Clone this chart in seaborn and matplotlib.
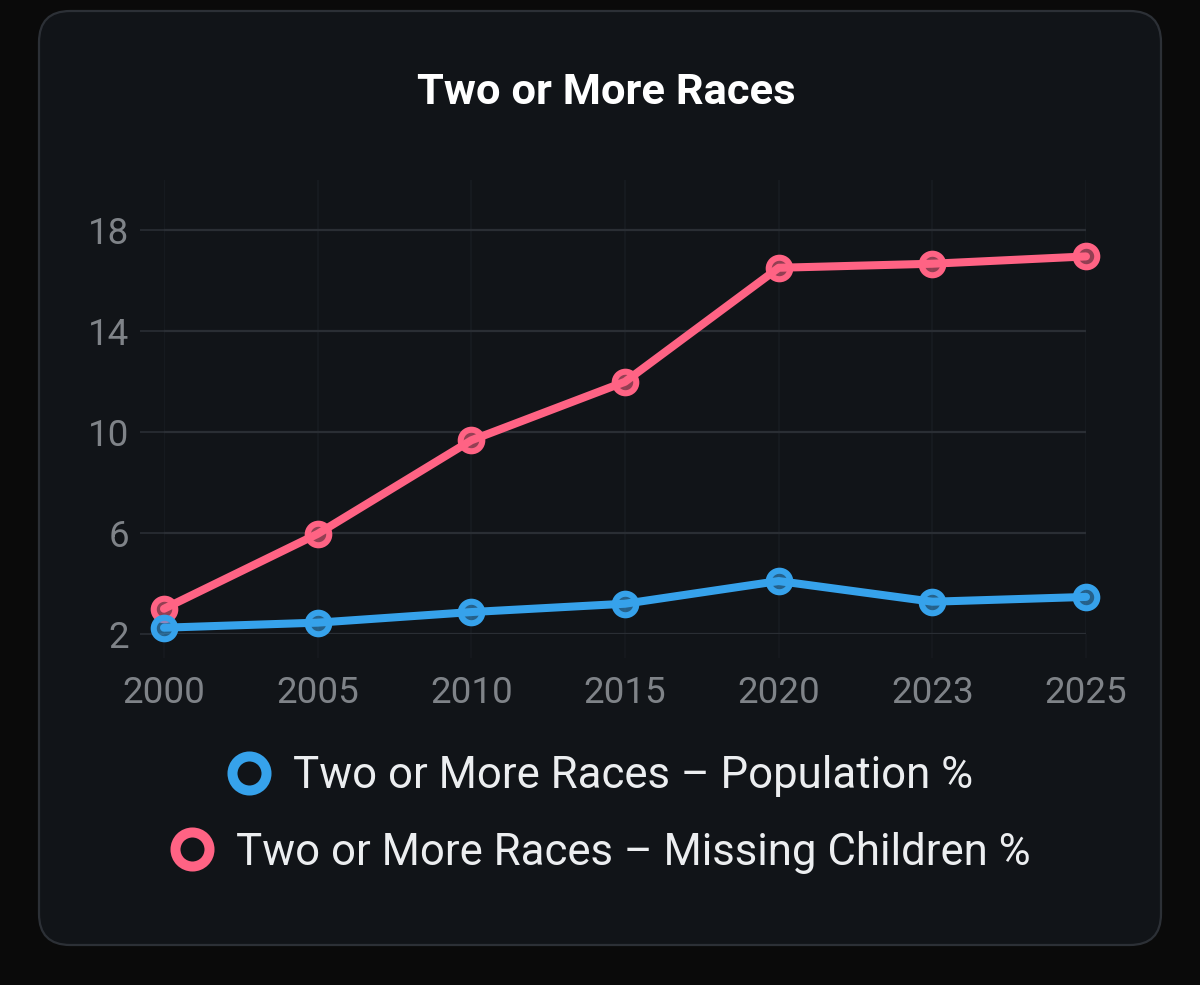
import matplotlib
matplotlib.use("Agg")
import matplotlib.pyplot as plt
from matplotlib.patches import FancyBboxPatch
from matplotlib.lines import Line2D
import seaborn as sns
import pandas as pd

# ---- data ----
years = ["2000", "2005", "2010", "2015", "2020", "2023", "2025"]
population_pct = [2.25, 2.45, 2.87, 3.2, 4.1, 3.28, 3.47]
missing_pct = [3.0, 5.97, 9.68, 12.0, 16.52, 16.68, 16.97]
series_names = ["Two or More Races – Population %",
                "Two or More Races – Missing Children %"]
series_colors = ["#36a2eb", "#ff6384"]
y_ticks = [2, 6, 10, 14, 18]
title_text = "Two or More Races"

sns.set_theme(style="dark")
plt.rcParams["font.family"] = ["Roboto", "DejaVu Sans"]

BG = "#0a0a0a"
CARD = "#111418"
HGRID = "#2a2e34"
VGRID = "#161a1f"
TICKC = "#7f8388"

fig = plt.figure(figsize=(12, 9.85), dpi=100)
fig.patch.set_facecolor(BG)

W, H = 1200, 985
card = FancyBboxPatch((39 / W, 40 / H), 1122 / W, 934 / H,
                      boxstyle="round,pad=0,rounding_size=0.026",
                      transform=fig.transFigure, facecolor=CARD,
                      edgecolor="#2c3036", linewidth=1.6, zorder=-5,
                      mutation_aspect=W / H)
fig.patches.append(card)

ax = fig.add_axes([164 / W, (985 - 634) / H, (1086 - 164) / W, (634 - 180) / H])
ax.set_zorder(2)
ax.set_facecolor(CARD)
ax.patch.set_alpha(0)

df = pd.DataFrame({"year": years * 2,
                   "value": population_pct + missing_pct,
                   "series": [series_names[0]] * len(years) + [series_names[1]] * len(years)})

# draw pink first, blue on top
for name, color in [(series_names[1], series_colors[1]), (series_names[0], series_colors[0])]:
    sub = df[df["series"] == name]
    sns.lineplot(data=sub, x="year", y="value", ax=ax, color=color, sort=False,
                 linewidth=5.8, marker="o", markersize=15.5, markeredgewidth=4.4,
                 markeredgecolor=color, markerfacecolor=matplotlib.colors.to_rgba(color, 0.55),
                 solid_capstyle="round", solid_joinstyle="round",
                 clip_on=False, zorder=3, legend=False)

ax.set_xlim(0, len(years) - 1)
ax.set_ylim(2, 20)
ax.set_yticks(y_ticks)
ax.set_xlabel("")
ax.set_ylabel("")

ax.grid(True, axis="y", color=HGRID, linewidth=1.6)
ax.grid(True, axis="x", color=VGRID, linewidth=1.6)
ax.set_axisbelow(True)
for s in ax.spines.values():
    s.set_visible(False)

ax.tick_params(axis="y", length=17.3, width=1.2, color=HGRID, pad=8,
               labelsize=26.5, labelcolor=TICKC, left=True)
ax.tick_params(axis="x", length=17, width=1.2, color=VGRID, pad=12.5,
               labelsize=26.5, labelcolor=TICKC, bottom=True)

fig.text(0.505, 1 - 92 / H, title_text, ha="center", va="center",
         fontsize=31.3, fontweight="bold", color="white")

legend_ys = [1 - 776 / H, 1 - 852 / H]
for name, color, ly in zip(series_names, series_colors, legend_ys):
    h = Line2D([], [], linestyle="none", marker="o", markersize=24.5,
               markeredgewidth=7.2, markeredgecolor=color,
               markerfacecolor=CARD)
    leg = fig.legend(handles=[h], labels=[name], loc="center",
                     bbox_to_anchor=(0.5, ly), bbox_transform=fig.transFigure,
                     frameon=False, fontsize=31.5, handlelength=1.0,
                     handletextpad=0.5, borderpad=0, labelcolor="#eceef0")

fig.savefig("out.png", dpi=100, facecolor=BG)
